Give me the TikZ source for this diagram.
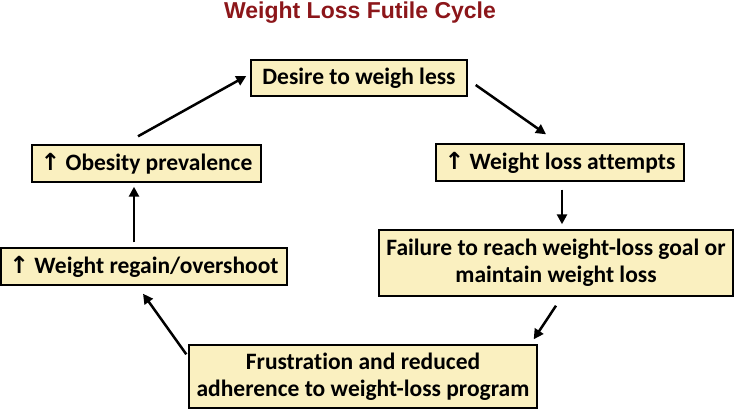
\documentclass[tikz,border=0pt]{standalone}
\usepackage{fontspec}
\setmainfont[Ligatures=NoCommon]{Carlito}
\newfontfamily\titlefont{Liberation Sans}
\newfontfamily\arrfont{DejaVu Sans}
\usetikzlibrary{arrows.meta}
\definecolor{boxfill}{RGB}{250,240,192}
\definecolor{titlered}{RGB}{140,22,26}
\newcommand{\upar}{{\arrfont\bfseries ↑}}
\tikzset{
  box/.style={draw=black, line width=1.4pt, fill=boxfill, rectangle, inner sep=0pt,
    font=\fontsize{23.5}{27}\selectfont\bfseries, align=center, text=black},
  arr/.style={line width=2.5pt, -{Triangle[length=10pt,width=10pt]}}
}
\begin{document}
\begin{tikzpicture}[x=1pt,y=-1pt]
\useasboundingbox (0,0) rectangle (736,411);
\node[anchor=base, font=\titlefont\bfseries\fontsize{23}{27}\selectfont, text=titlered] (title) at (360,18.5) {Weight Loss Futile Cycle};
\node[box, minimum width=216pt, minimum height=36pt] (des) at (359,78) {Desire to weigh less};
\node[box, minimum width=229pt, minimum height=37pt] (obe) at (146.5,163.5) {\upar\ Obesity prevalence};
\node[box, minimum width=286pt, minimum height=37pt] (reg) at (144,266.5) {\upar\ Weight regain/overshoot};
\node[box, minimum width=248pt, minimum height=37pt] (att) at (560,162.5) {\upar\ Weight loss attempts};
\node[box, minimum width=354pt, minimum height=66pt] (fai) at (556,263) {Failure to reach weight-loss goal or\\maintain weight loss};
\node[box, minimum width=348pt, minimum height=63pt] (fru) at (363,376.5) {Frustration and reduced\\adherence to weight-loss program};
\draw[arr] ([xshift=-8.5pt,yshift=8pt]obe.north) -- ([xshift=-4pt,yshift=2pt]des.west);
\draw[arr] ([xshift=8pt,yshift=-7pt]des.east) -- ([xshift=-14pt,yshift=9pt]att.north);
\draw[arr] ([xshift=2pt,yshift=-8pt]att.south) -- ([xshift=6pt,yshift=5pt]fai.north);
\draw[arr] ([yshift=-9pt]fai.south) -- ([xshift=-4pt,yshift=5pt]fru.north east);
\draw[arr] ([xshift=-2pt,yshift=-10pt]fru.north west) -- ([xshift=-1pt,yshift=-8pt]reg.south);
\draw[arr] ([xshift=-10pt,yshift=5pt]reg.north) -- ([xshift=-12.5pt,yshift=-4pt]obe.south);
\end{tikzpicture}
\end{document}
